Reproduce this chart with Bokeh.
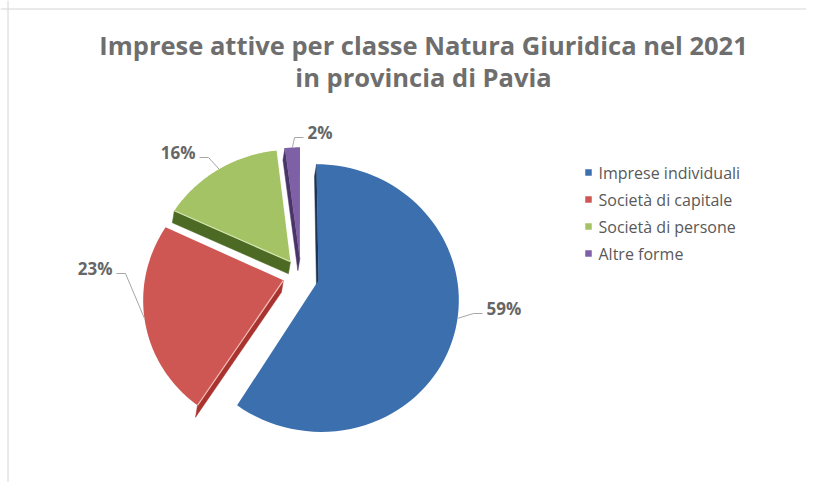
import numpy as np
from bokeh.plotting import figure
from bokeh.models import ColumnDataSource, Range1d, Span
from bokeh.core.properties import value
from bokeh.embed import file_html
from bokeh.resources import INLINE

# ---------------- data ----------------
title_lines = ["Imprese attive per classe Natura Giuridica nel 2021", "in provincia di Pavia"]
categories = ["Imprese individuali", "Società di capitale", "Società di persone", "Altre forme"]
shares = [59, 23, 16, 2]
pct_labels = ["59%", "23%", "16%", "2%"]

# ---------------- style ----------------
colors = ["#3b6fad", "#cf5753", "#a4c365", "#7e60a6"]
side_colors = ["#1d3557", "#a8332f", "#4d6a25", "#4a3568"]
edge_light = [None, "#f3bdb8", "#d4e6b0", None]
FONT = "Open Sans"
W, H = 806, 482

# pie projection (screen px, y down)
CX, CY = 300.5, 275.0
R, RB, PERSP, EXPLODE = 138.0, 130.2, 0.132, 0.132
DEPTH = np.array([-2.0, 12.0])

# label layout: (x, y, align)
LABEL_POS = [(486, 308, "left"), (112, 268, "right"), (195, 152, "right"), (307, 132, "left")]


def proj(u, v):
    d = 1 - PERSP * v
    return CX + R * u / d, CY + RB * v / d


p = figure(width=W, height=H, x_range=Range1d(0, W), y_range=Range1d(H, 0),
           output_backend="svg", toolbar_location=None, min_border=0,
           x_axis_location=None, y_axis_location=None)
p.grid.visible = False
p.outline_line_color = None
p.background_fill_color = "white"
p.border_fill_color = "white"

p.add_layout(Span(location=7.5, dimension="height", line_color="#d4d4d4", line_width=1))
p.add_layout(Span(location=8.5, dimension="width", line_color="#d4d4d4", line_width=1))

total = float(sum(shares))
fr = np.array(shares) / total
ends = np.cumsum(fr) * 2 * np.pi
starts = ends - fr * 2 * np.pi

top_xs, top_ys, side_xs, side_ys, side_cols = [], [], [], [], []
hl_xs, hl_ys, hl_cols = [], [], []
rim_mid = []
for i in range(len(shares)):
    a0, a1 = starts[i], ends[i]
    b = 0.5 * (a0 + a1)
    eu, ev = EXPLODE * np.sin(b), -EXPLODE * np.cos(b)
    ax, ay = proj(eu, ev)
    th = np.linspace(a0, a1, 80)
    rx, ry = proj(np.sin(th) + eu, -np.cos(th) + ev)
    top_xs.append([ax] + list(rx))
    top_ys.append([ay] + list(ry))
    mx, my = proj(np.sin(b) + eu, -np.cos(b) + ev)
    rim_mid.append((mx, my))
    apex = np.array([ax, ay])
    m = np.array([mx, my]) - apex
    for ex_, ey_ in [(rx[0], ry[0]), (rx[-1], ry[-1])]:
        e = np.array([ex_, ey_]) - apex
        n = np.array([-e[1], e[0]])
        if np.dot(n, m) > 0:
            n = -n
        if np.dot(n, DEPTH) > 0:
            q0, q1 = apex, np.array([ex_, ey_])
            side_xs.append([q0[0], q1[0], q1[0] + DEPTH[0], q0[0] + DEPTH[0]])
            side_ys.append([q0[1], q1[1], q1[1] + DEPTH[1], q0[1] + DEPTH[1]])
            side_cols.append(side_colors[i])
            if edge_light[i]:
                hl_xs.append([q0[0], q1[0]])
                hl_ys.append([q0[1], q1[1]])
                hl_cols.append(edge_light[i])

p.patches(xs="xs", ys="ys", fill_color="c", line_color="c", line_width=0.5,
          source=ColumnDataSource(dict(xs=side_xs, ys=side_ys, c=side_cols)))
p.patches(xs="xs", ys="ys", fill_color="c", line_color=None,
          source=ColumnDataSource(dict(xs=top_xs, ys=top_ys, c=colors)))
p.multi_line(xs="xs", ys="ys", line_color="c", line_width=1.2,
             source=ColumnDataSource(dict(xs=hl_xs, ys=hl_ys, c=hl_cols)))

# leader lines + percentage labels
lxs, lys = [], []
for i, (tx, ty, al) in enumerate(LABEL_POS):
    s = 1 if al == "left" else -1
    endx, endy = tx - 4 * s, ty + 5
    elx = endx - 9 * s
    mx, my = rim_mid[i]
    lxs.append([mx, elx, endx])
    lys.append([my, endy, endy])
p.multi_line(xs=lxs, ys=lys, line_color="#a6a6a6", line_width=1)

for al in ("left", "right"):
    idx = [i for i in range(len(LABEL_POS)) if LABEL_POS[i][2] == al]
    p.text(x=[LABEL_POS[i][0] for i in idx], y=[LABEL_POS[i][1] for i in idx],
           text=[pct_labels[i] for i in idx], text_align=al, text_baseline="middle",
           text_font=value(FONT), text_font_style="bold", text_font_size="17px",
           text_color="#666666")

# title
p.text(x=[423, 423], y=[44, 76], text=title_lines, text_align="center",
       text_baseline="middle", text_font=value(FONT), text_font_style="bold",
       text_font_size="25.5px", text_color="#6e6e6e")

# legend
ly = [172 + 27 * k for k in range(len(categories))]
p.scatter(x=[588] * len(categories), y=ly, marker="square", size=6.5,
          fill_color=colors, line_color=None)
p.text(x=[598] * len(categories), y=ly, text=categories, text_align="left",
       text_baseline="middle", text_font=value(FONT), text_font_size="16px",
       text_color="#595959")

open("out.html", "w").write(file_html(p, INLINE))
